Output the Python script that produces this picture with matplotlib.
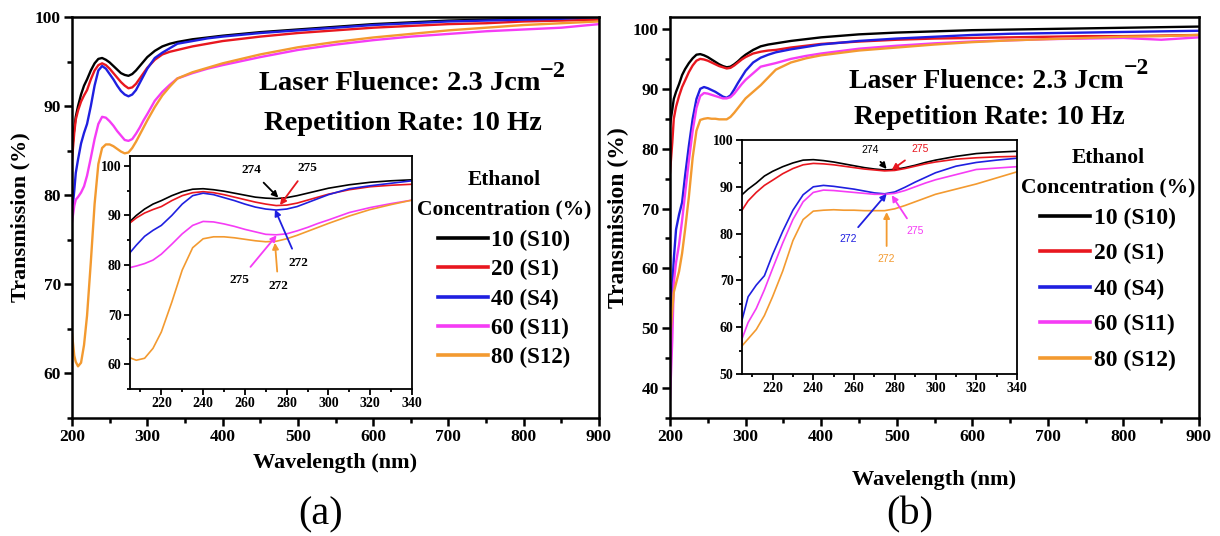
import matplotlib
matplotlib.use("Agg")
import matplotlib.pyplot as plt
from matplotlib.ticker import MultipleLocator

plt.rcParams['font.family'] = ['Liberation Serif', 'DejaVu Serif']
plt.rcParams['font.weight'] = 'bold'

# ---------------- data ----------------
labels = ["10 (S10)", "20 (S1)", "40 (S4)", "60 (S11)", "80 (S12)"]
colors = ["#000000", "#e8171f", "#1f1fe0", "#f53cf5", "#f39a30"]

wavelength = [200, 203, 205, 208, 212, 216, 220, 225, 230, 235, 240, 245, 250, 255,
              260, 265, 270, 275, 280, 285, 290, 295, 300, 310, 320, 330, 340, 360,
              380, 400, 450, 500, 550, 600, 650, 700, 750, 800, 850, 900]

# panel (a)
a_s10 = [85.0, 87.5, 88.8, 90.0, 91.3, 92.3, 93.0, 94.0, 94.8, 95.3, 95.4, 95.2, 94.9, 94.5,
         94.1, 93.7, 93.5, 93.4, 93.6, 94.0, 94.5, 95.0, 95.5, 96.2, 96.7, 97.0, 97.2, 97.5,
         97.7, 97.9, 98.3, 98.6, 98.9, 99.2, 99.4, 99.6, 99.7, 99.8, 99.9, 100.0]
a_s1 = [84.0, 87.0, 88.5, 89.5, 90.5, 91.2, 91.8, 93.0, 94.0, 94.6, 94.8, 94.6, 94.2, 93.7,
        93.2, 92.7, 92.3, 92.0, 92.1, 92.5, 93.1, 93.7, 94.3, 95.2, 95.8, 96.1, 96.3, 96.7,
        97.0, 97.3, 97.8, 98.2, 98.5, 98.8, 99.0, 99.2, 99.3, 99.5, 99.6, 99.7]
a_s4 = [78.0, 80.5, 82.5, 84.0, 85.8, 87.0, 88.0, 90.0, 92.3, 94.0, 94.5, 94.2, 93.6, 93.0,
        92.3, 91.7, 91.3, 91.1, 91.3, 91.8, 92.6, 93.4, 94.2, 95.4, 96.0, 96.5, 97.0, 97.3,
        97.6, 97.8, 98.2, 98.5, 98.8, 99.1, 99.3, 99.5, 99.6, 99.7, 99.8, 100.0]
a_s11 = [77.0, 78.8, 79.5, 79.8, 80.3, 81.0, 82.2, 84.2, 86.3, 88.0, 88.8, 88.7, 88.3, 87.8,
         87.2, 86.7, 86.2, 86.1, 86.3, 86.9, 87.6, 88.4, 89.1, 90.6, 91.6, 92.4, 93.1, 93.7,
         94.2, 94.6, 95.5, 96.3, 96.9, 97.4, 97.8, 98.1, 98.4, 98.6, 98.8, 99.2]
a_s12 = [64.5, 62.0, 61.3, 60.8, 61.2, 63.2, 66.5, 72.5, 79.0, 83.5, 85.3, 85.7, 85.7, 85.5,
         85.2, 84.9, 84.7, 84.8, 85.3, 86.0, 86.8, 87.6, 88.4, 89.9, 91.2, 92.2, 93.1, 93.8,
         94.3, 94.8, 95.8, 96.6, 97.2, 97.7, 98.1, 98.5, 98.8, 99.1, 99.3, 99.5]

# panel (b)
b_s10 = [84.0, 86.5, 88.3, 89.5, 90.8, 92.3, 93.3, 94.3, 95.1, 95.7, 95.8, 95.6, 95.3, 94.9,
         94.5, 94.1, 93.8, 93.6, 93.7, 94.1, 94.6, 95.2, 95.7, 96.5, 97.1, 97.4, 97.6, 98.0,
         98.3, 98.6, 99.1, 99.4, 99.6, 99.8, 99.9, 100.0, 100.1, 100.2, 100.3, 100.4]
b_s1 = [76.0, 81.0, 85.0, 87.0, 88.8, 90.3, 91.4, 92.8, 93.9, 94.7, 95.0, 94.9, 94.7, 94.4,
        94.1, 93.8, 93.6, 93.4, 93.5, 93.9, 94.4, 94.9, 95.3, 95.9, 96.2, 96.4, 96.5, 96.9,
        97.2, 97.5, 97.9, 98.2, 98.4, 98.5, 98.6, 98.7, 98.8, 98.8, 98.9, 99.0]
b_s4 = [52.0, 57.0, 61.5, 66.5, 69.0, 71.0, 75.5, 80.5, 85.0, 88.3, 90.0, 90.3, 90.1, 89.8,
        89.5, 89.1, 88.7, 88.5, 88.9, 89.9, 91.0, 92.0, 93.0, 94.4, 95.2, 95.7, 96.1, 96.6,
        97.0, 97.4, 98.0, 98.4, 98.7, 99.0, 99.2, 99.3, 99.4, 99.5, 99.6, 99.7]
b_s11 = [38.0, 48.0, 57.5, 61.0, 64.0, 68.0, 72.5, 78.0, 83.0, 86.8, 88.8, 89.3, 89.2, 89.0,
         88.8, 88.6, 88.4, 88.4, 88.6, 89.2, 90.0, 90.8, 91.5, 92.6, 93.7, 94.0, 94.3, 95.0,
         95.5, 95.9, 96.7, 97.2, 97.6, 97.9, 98.1, 98.3, 98.4, 98.5, 98.2, 98.6]
b_s12 = [48.0, 53.0, 56.0, 57.5, 59.5, 62.5, 66.5, 72.0, 78.5, 83.0, 84.8, 85.0, 85.1, 85.0,
         85.0, 84.9, 84.9, 84.9, 85.3, 86.0, 86.8, 87.6, 88.4, 89.5, 90.6, 91.9, 93.2, 94.4,
         95.1, 95.6, 96.4, 96.9, 97.4, 97.8, 98.1, 98.3, 98.5, 98.7, 98.8, 99.0]

series_a = [a_s10, a_s1, a_s4, a_s11, a_s12]
series_b = [b_s10, b_s1, b_s4, b_s11, b_s12]

# inset annotations: (label, colour index, text xy, arrow tip xy)
ann_a = [("274", 0, (263, 99.2), (276.0, 93.6)),
         ("275", 1, (290, 99.6), (276.8, 92.1)),
         ("272", 2, (285.5, 80.5), (274.4, 91.2)),
         ("275", 3, (257.5, 77.0), (275.2, 86.0)),
         ("272", 4, (276, 75.8), (274.4, 84.5))]
ann_b = [("274", 0, (268, 97.9), (276.0, 93.8)),
         ("275", 1, (292.5, 98.0), (278.5, 93.6)),
         ("272", 2, (257, 78.8), (276.0, 88.5)),
         ("275", 3, (290, 80.6), (278.5, 88.2)),
         ("272", 4, (276, 74.5), (276.0, 84.6))]

W, H = 1220, 536
fig = plt.figure(figsize=(W / 100, H / 100), dpi=100)


def rect(l, t, r, b):
    return [l / W, 1 - b / H, (r - l) / W, (b - t) / H]


def P(x, y):
    return (x / W, 1 - y / H)


def style_axes(ax, major_fs, lw, maj_len, min_len):
    for s in ax.spines.values():
        s.set_linewidth(lw)
    ax.tick_params(which='major', direction='out', length=maj_len, width=lw,
                   labelsize=major_fs, pad=2)
    ax.tick_params(which='minor', direction='out', length=min_len, width=lw)
    for lab in ax.get_xticklabels() + ax.get_yticklabels():
        lab.set_fontweight('bold')


def panel(main_rect, ins_rect, series, ylim_main, yticks_main, ylim_ins, ins_yticks, ann,
          ann_font, ann_sans, text_pos, text_fs, sup_pos, legend_anchor, leg_fs,
          legend_spacing, title_sep, xlabel_pad, ylabel_fs, letter, letter_pos):
    ax = fig.add_axes(rect(*main_rect))
    for vals, c, lab in zip(series, colors, labels):
        ax.plot(wavelength, vals, color=c, lw=1.7, label=lab)
    ax.set_xlim(200, 900)
    ax.set_ylim(*ylim_main)
    ax.set_xticks(range(200, 901, 100))
    ax.set_yticks(yticks_main)
    ax.xaxis.set_minor_locator(MultipleLocator(50))
    ax.yaxis.set_minor_locator(MultipleLocator(5))
    style_axes(ax, 12.5, 1.8, 6, 3.5)
    ax.set_xlabel("Wavelength (nm)", fontsize=16, fontweight='bold', labelpad=xlabel_pad)
    ax.set_ylabel("Transmission (%)", fontsize=ylabel_fs, fontweight='bold', labelpad=3)

    leg = ax.legend(loc='upper center', bbox_to_anchor=P(*legend_anchor),
                    bbox_transform=fig.transFigure, frameon=False,
                    title="Ethanol\nConcentration (%)",
                    prop={'size': leg_fs, 'weight': 'bold'},
                    title_fontproperties={'size': 15.5, 'weight': 'bold'},
                    handlelength=50 / (leg_fs * 100 / 72), handletextpad=0.15,
                    labelspacing=legend_spacing, borderpad=0, borderaxespad=0)
    leg.get_title().set_multialignment('center')
    leg.get_title().set_linespacing(1.6)
    leg._legend_box.sep = title_sep
    for h in leg.get_lines():
        h.set_linewidth(2.6)

    tx, ty1, ty2 = text_pos
    fig.text(*P(tx, ty1), "Laser Fluence: 2.3 Jcm", fontsize=text_fs,
             fontweight='bold', ha='left', va='center')
    fig.text(*P(*sup_pos), "\u22122", fontsize=text_fs * 0.85,
             fontweight='bold', ha='left', va='center')
    fig.text(*P(tx + 5, ty2), "Repetition Rate: 10 Hz", fontsize=text_fs,
             fontweight='bold', ha='left', va='center')
    fig.text(*P(*letter_pos), letter, fontsize=29, fontweight='normal',
             ha='center', va='center')

    ins = fig.add_axes(rect(*ins_rect))
    for vals, c in zip(series, colors):
        ins.plot(wavelength, vals, color=c, lw=1.2)
    ins.set_xlim(205, 340)
    ins.set_ylim(*ylim_ins)
    ins.set_xticks(range(220, 341, 20))
    ins.set_yticks(ins_yticks)
    ins.xaxis.set_minor_locator(MultipleLocator(10))
    ins.yaxis.set_minor_locator(MultipleLocator(5))
    style_axes(ins, 10, 1.3, 4, 2.5)

    for txt, ci, xyt, xy in ann:
        c = colors[ci] if ann_sans else '#000000'
        fam = ['Liberation Sans'] if ann_sans else ['Liberation Serif']
        ins.annotate(txt, xy=xy, xytext=xyt, textcoords='data', color=c,
                     fontsize=ann_font, fontweight='normal' if ann_sans else 'bold',
                     family=fam, ha='center', va='center',
                     arrowprops=dict(arrowstyle='-|>', color=colors[ci], lw=1.3,
                                     mutation_scale=9, shrinkA=4, shrinkB=0))
    return ax, ins


panel((72, 17, 599, 418), (130, 156, 412, 389), series_a, (55, 100), range(60, 101, 10),
      (55, 102), range(60, 101, 10), ann_a, 9.5, False, (259, 83, 123), 20.5, (540, 72),
      (504, 170), 16.5, 0.35, 8.0, 6, 16, "(a)", (321, 515))
panel((670, 17, 1199, 418), (742, 140, 1017, 374), series_b, (35, 102), range(40, 101, 10),
      (50, 100), range(50, 101, 10), ann_b, 7.5, True, (849, 82, 118), 20, (1124, 68),
      (1108, 148), 17, 0.59, 7.5, 18, 17, "(b)", (910, 515))

fig.savefig("out.png", dpi=100)
